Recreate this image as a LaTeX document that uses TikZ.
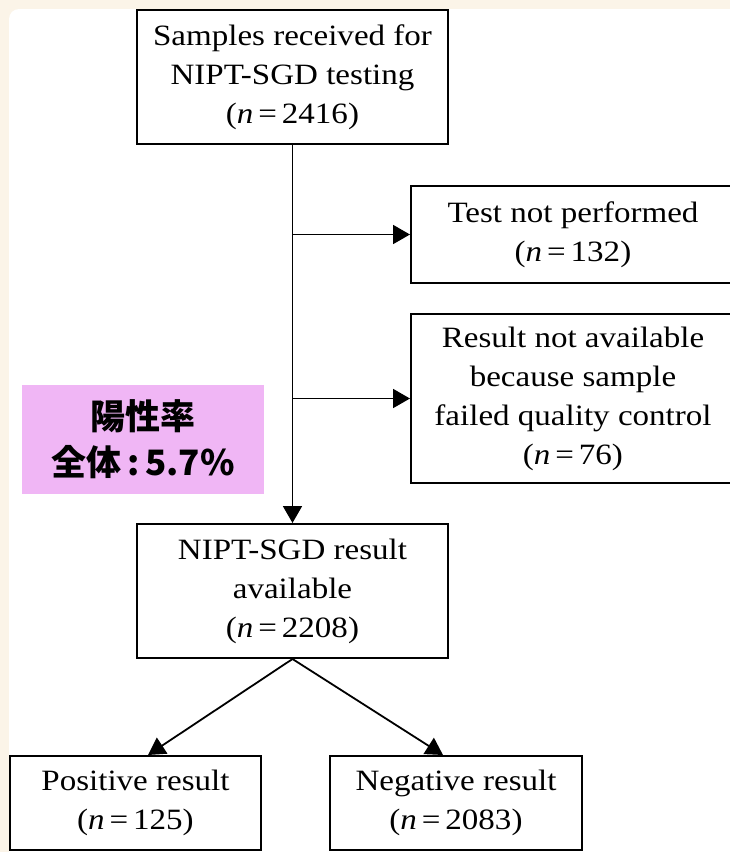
\documentclass[tikz,border=0pt]{standalone}
\usepackage{fontspec}
\setmainfont{Liberation Serif}[FakeStretch=1.12]
\newfontfamily\cjkfont{Noto Sans CJK JP}
\usetikzlibrary{arrows.meta}
\definecolor{lilac}{HTML}{F0B6F5}
\definecolor{cream}{HTML}{FBF4E8}

\tikzset{
  flowbox/.style={draw, line width=2pt, align=center, inner sep=0pt,
    font=\fontsize{29.5}{39}\selectfont},
  link/.style={line width=1.8pt, -{Triangle[length=17pt, width=19pt]}},
}

\begin{document}
\begin{tikzpicture}[x=1pt, y=-1pt]

  % Page and card
  \useasboundingbox (0,0) rectangle (730,852);
  \fill[cream] (0,0) rectangle (730,852);
  \fill[white, rounded corners=10pt] (9,9) rectangle (770,890);

  % Boxes
  \node[flowbox, minimum width=311pt, minimum height=134pt] (samples) at (292.5,77)
    {Samples received for\\NIPT-SGD testing\\({\itshape n}\,=\,2416)};
  \node[flowbox, minimum width=324pt, minimum height=97pt] (notperf) at (573,234.5)
    {Test not performed\\({\itshape n}\,=\,132)};
  \node[flowbox, minimum width=324pt, minimum height=169pt] (failed) at (573,398.5)
    {Result not available\\because sample\\failed quality control\\({\itshape n}\,=\,76)};
  \node[flowbox, minimum width=311pt, minimum height=134pt] (available) at (292.5,591)
    {NIPT-SGD result\\available\\({\itshape n}\,=\,2208)};
  \node[flowbox, minimum width=251pt, minimum height=94pt] (positive) at (135.5,803)
    {Positive result\\({\itshape n}\,=\,125)};
  \node[flowbox, minimum width=252pt, minimum height=94pt] (negative) at (456,803)
    {Negative result\\({\itshape n}\,=\,2083)};

  % Positive rate note
  \node[fill=lilac, minimum width=242pt, minimum height=109pt, align=center,
    font=\cjkfont\bfseries\fontsize{35}{46}\selectfont] (rate) at (143,439.5)
    {陽性率\\全体\,:\,5.7\%};

  % Connectors
  \coordinate (split1) at (samples.south |- notperf.west);
  \coordinate (split2) at (samples.south |- failed.west);
  \draw[link] (samples.south) -- (available.north);
  \draw[link] (split1) -- (notperf.west);
  \draw[link] (split2) -- (failed.west);
  \draw[link] (available.south) -- ([xshift=12.5pt]positive.north);
  \draw[link] (available.south) -- ([xshift=-13pt]negative.north);

\end{tikzpicture}
\end{document}
